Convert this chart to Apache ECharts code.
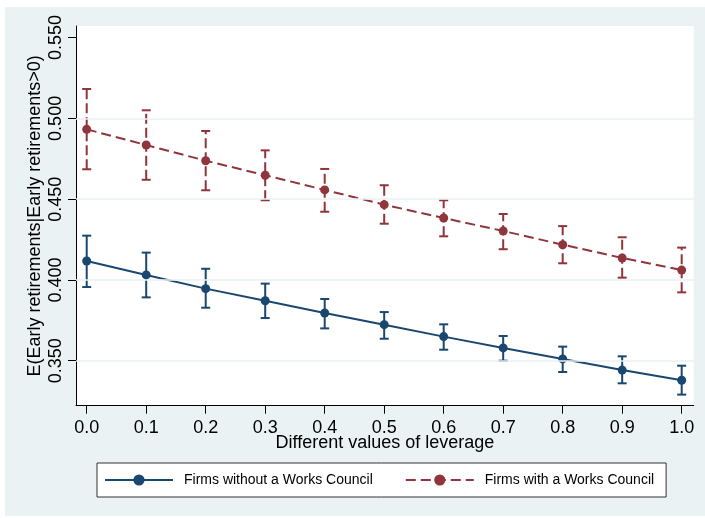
<!DOCTYPE html>
<html>
<head>
<meta charset="utf-8">
<script src="https://cdn.jsdelivr.net/npm/echarts@6/dist/echarts.min.js"></script>
<style>
  html, body { margin: 0; padding: 0; background: #ffffff; }
  #chart { position: absolute; left: 5px; top: 7px; width: 700px; height: 509px; }
</style>
</head>
<body>
<div id="chart"></div>
<script>
// Leverage values on the horizontal axis
const leverage = [0.0, 0.1, 0.2, 0.3, 0.4, 0.5, 0.6, 0.7, 0.8, 0.9, 1.0];

// Predicted early retirements, firms without a works council (mean and 95% CI)
const noCouncilMean  = [0.4117, 0.4031, 0.3946, 0.3871, 0.3795, 0.3723, 0.3649, 0.3579, 0.3511, 0.3442, 0.3379];
const noCouncilLower = [0.3956, 0.3892, 0.3828, 0.3764, 0.3700, 0.3636, 0.3568, 0.3500, 0.3430, 0.3360, 0.3290];
const noCouncilUpper = [0.4274, 0.4169, 0.4069, 0.3977, 0.3882, 0.3801, 0.3725, 0.3653, 0.3587, 0.3527, 0.3469];

// Predicted early retirements, firms with a works council (mean and 95% CI)
const councilMean  = [0.4932, 0.4835, 0.4738, 0.4648, 0.4557, 0.4466, 0.4383, 0.4303, 0.4218, 0.4136, 0.4061];
const councilLower = [0.4685, 0.4620, 0.4555, 0.4493, 0.4422, 0.4348, 0.4270, 0.4190, 0.4103, 0.4014, 0.3923];
const councilUpper = [0.5182, 0.5050, 0.4922, 0.4802, 0.4687, 0.4586, 0.4493, 0.4408, 0.4333, 0.4264, 0.4200];

// Axis tick labels
const xTicks = [0.0, 0.1, 0.2, 0.3, 0.4, 0.5, 0.6, 0.7, 0.8, 0.9, 1.0];
const yTicks = [0.35, 0.40, 0.45, 0.50, 0.55];
const yGridLines = [0.35, 0.40, 0.45, 0.50];

const BLUE = '#1a476f';
const RED = '#90353b';
const FONT = '"Liberation Sans", Arial, Helvetica, sans-serif';

function pairs(xs, ys) { return xs.map((x, i) => [x, ys[i]]); }

function ciSeries(name, lower, upper, color, dashed) {
  return {
    name: name,
    type: 'custom',
    z: 3,
    silent: true,
    data: leverage.map((x, i) => [x, lower[i], upper[i]]),
    encode: { x: 0, y: [1, 2] },
    renderItem: function (params, api) {
      const lo = api.coord([api.value(0), api.value(1)]);
      const hi = api.coord([api.value(0), api.value(2)]);
      const half = 4.5;
      const style = { stroke: color, lineWidth: 2, fill: null };
      return {
        type: 'group',
        children: [
          { type: 'line', shape: { x1: lo[0], y1: lo[1], x2: hi[0], y2: hi[1] },
            style: Object.assign({}, style, dashed ? { lineDash: [10, 4] } : {}) },
          { type: 'line', shape: { x1: hi[0] - half, y1: hi[1], x2: hi[0] + half, y2: hi[1] }, style: style },
          { type: 'line', shape: { x1: lo[0] - half, y1: lo[1], x2: lo[0] + half, y2: lo[1] }, style: style }
        ]
      };
    }
  };
}

const chart = echarts.init(document.getElementById('chart'), null, { renderer: 'canvas' });

chart.setOption({
  backgroundColor: '#eaf2f3',
  animation: false,
  textStyle: { fontFamily: FONT },
  grid: {
    left: 71, top: 19, right: 11.3, bottom: 110.3,
    show: true, backgroundColor: '#ffffff', borderWidth: 0
  },
  legend: {
    data: ['Firms without a Works Council', 'Firms with a Works Council'],
    left: 92, top: 456,
    orient: 'horizontal',
    padding: [10, 12, 10, 7],
    itemGap: 32,
    itemWidth: 68,
    itemHeight: 14,
    backgroundColor: '#ffffff',
    borderColor: '#333333',
    borderWidth: 1,
    borderRadius: 0,
    textStyle: { fontFamily: FONT, fontSize: 14, color: '#000000', padding: [0, 0, 0, 6] }
  },
  xAxis: {
    type: 'value',
    min: -0.018, max: 1.0202,
    name: 'Different values of leverage',
    nameLocation: 'middle',
    nameGap: 28,
    nameMoveOverlap: false,
    nameTextStyle: { fontFamily: FONT, fontSize: 18, color: '#000000' },
    axisLine: { show: true, onZero: false, lineStyle: { color: '#000000', width: 1 } },
    axisTick: { show: true, length: 8, customValues: xTicks, lineStyle: { color: '#000000' } },
    axisLabel: {
      customValues: xTicks, margin: 13,
      fontFamily: FONT, fontSize: 18, color: '#000000',
      formatter: v => v.toFixed(1)
    },
    splitLine: { show: false }
  },
  yAxis: {
    type: 'value',
    min: 0.32214, max: 0.55718,
    name: 'E(Early retirements|Early retirements>0)',
    nameLocation: 'middle',
    nameGap: 32,
    nameMoveOverlap: false,
    nameTextStyle: { fontFamily: FONT, fontSize: 18, color: '#000000' },
    axisLine: { show: true, onZero: false, lineStyle: { color: '#000000', width: 1 } },
    axisTick: { show: true, length: 8, customValues: yTicks, lineStyle: { color: '#000000' } },
    axisLabel: {
      customValues: yTicks, rotate: 90, margin: 11,
      fontFamily: FONT, fontSize: 18, color: '#000000',
      formatter: v => v.toFixed(3)
    },
    splitLine: { show: false }
  },
  series: [
    {
      // horizontal reference lines at the labelled ticks
      name: 'grid',
      type: 'line',
      z: 1,
      data: [],
      silent: true,
      markLine: {
        silent: true,
        symbol: 'none',
        label: { show: false },
        lineStyle: { color: '#eaf2f3', width: 1.5, type: 'solid' },
        data: yGridLines.map(v => ({ yAxis: v }))
      }
    },
    ciSeries('ci-without', noCouncilLower, noCouncilUpper, BLUE, false),
    ciSeries('ci-with', councilLower, councilUpper, RED, true),
    {
      name: 'Firms without a Works Council',
      type: 'line',
      z: 4,
      data: pairs(leverage, noCouncilMean),
      symbol: 'circle',
      symbolSize: 9,
      showAllSymbol: true,
      lineStyle: { color: BLUE, width: 2, type: 'solid' },
      itemStyle: { color: BLUE, borderWidth: 0 }
    },
    {
      name: 'Firms with a Works Council',
      type: 'line',
      z: 4,
      data: pairs(leverage, councilMean),
      symbol: 'circle',
      symbolSize: 9,
      showAllSymbol: true,
      lineStyle: { color: RED, width: 2, type: [10, 5] },
      itemStyle: { color: RED, borderWidth: 0 }
    }
  ]
});
</script>
</body>
</html>
